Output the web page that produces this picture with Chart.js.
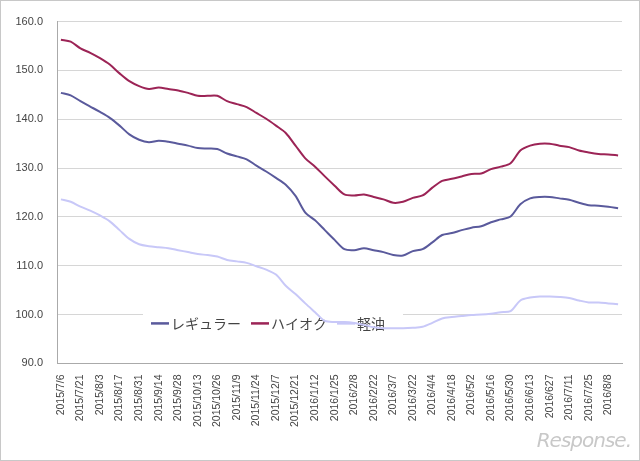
<!DOCTYPE html>
<html>
<head>
<meta charset="utf-8">
<script src="https://cdn.jsdelivr.net/npm/chart.js@4"></script>
<style>
  body { margin: 0; background: #fff; }
  #wrap { position: relative; width: 638px; height: 459px; border: 1px solid #c8c8c8; }
  #mark { position: absolute; right: 8px; bottom: 8px; font: italic 20px "DejaVu Sans", sans-serif; color: #c8c8c8; letter-spacing: -1px; }
</style>
</head>
<body>
<div id="wrap">
  <canvas id="lineChart" width="638" height="459"></canvas>
  <div id="mark">Response.</div>
</div>
<script>
// weekly survey dates (every other one is shown on the axis)
var weeks = ["2015/7/6","2015/7/13","2015/7/21","2015/7/27","2015/8/3","2015/8/10","2015/8/17","2015/8/24","2015/8/31","2015/9/7",
  "2015/9/14","2015/9/24","2015/9/28","2015/10/5","2015/10/13","2015/10/19","2015/10/26","2015/11/2","2015/11/9","2015/11/16",
  "2015/11/24","2015/11/30","2015/12/7","2015/12/14","2015/12/21","2016/1/5","2016/1/12","2016/1/18","2016/1/25","2016/2/1",
  "2016/2/8","2016/2/15","2016/2/22","2016/2/29","2016/3/7","2016/3/14","2016/3/22","2016/3/28","2016/4/4","2016/4/11",
  "2016/4/18","2016/4/25","2016/5/2","2016/5/9","2016/5/16","2016/5/23","2016/5/30","2016/6/6","2016/6/13","2016/6/20",
  "2016/627","2016/7/4","2016/7/11","2016/7/19","2016/7/25","2016/8/1","2016/8/8","2016/8/15"];

var regular = [145.4,144.9,143.7,142.6,141.5,140.3,138.7,136.9,135.8,135.3,135.6,135.4,135.0,134.6,134.1,134.0,133.9,133.0,132.4,131.8,
  130.5,129.3,128.0,126.6,124.3,120.9,119.3,117.3,115.3,113.4,113.2,113.6,113.2,112.8,112.2,112.1,113.0,113.4,114.8,116.3,
  116.7,117.3,117.8,118.1,118.9,119.5,120.1,122.6,123.8,124.1,124.1,123.8,123.5,122.9,122.4,122.3,122.1,121.8];

var highOctane = [156.3,155.9,154.5,153.6,152.5,151.2,149.4,147.8,146.8,146.2,146.5,146.2,145.9,145.4,144.8,144.8,144.8,143.7,143.1,142.5,
  141.3,140.1,138.7,137.2,134.6,132.0,130.3,128.3,126.4,124.6,124.4,124.6,124.1,123.6,122.9,123.1,123.9,124.4,126.0,127.4,
  127.8,128.3,128.8,128.9,129.8,130.3,131.0,133.6,134.6,135.0,135.0,134.6,134.3,133.6,133.2,132.9,132.8,132.6];

var diesel = [123.6,123.1,122.1,121.3,120.3,119.1,117.3,115.5,114.4,114.0,113.8,113.6,113.2,112.8,112.4,112.2,111.9,111.2,110.9,110.6,
  109.9,109.2,108.2,105.9,104.2,102.3,100.5,98.7,98.5,98.5,98.3,97.9,97.4,97.2,97.2,97.2,97.3,97.5,98.3,99.2,
  99.5,99.7,99.9,100.0,100.2,100.5,100.7,102.9,103.5,103.7,103.7,103.6,103.4,102.9,102.5,102.5,102.3,102.1];

var seriesNames = ["レギュラー", "ハイオク", "軽油"];
var seriesColors = ["#5a5a9c", "#9c2456", "#c8c8f8"];

function pts(arr) {
  return arr.map(function (v, i) { return { x: i, y: v }; });
}

var FONT = '"Liberation Sans", Arial, sans-serif';

// legend drawn inside the plot, on a white box over the gridlines (lines pass over it)
var innerLegend = {
  id: "innerLegend",
  beforeDatasetsDraw: function (chart) {
    var c = chart.ctx;
    var y = chart.scales.y.getPixelForValue(98.2);
    c.save();
    c.fillStyle = "#fff";
    c.fillRect(142, y - 12, 260, 24);
    c.font = "14px " + '"Noto Sans CJK JP", sans-serif';
    c.textBaseline = "middle";
    var x = 150;
    chart.data.datasets.forEach(function (ds) {
      c.strokeStyle = ds.borderColor;
      c.lineWidth = 2.5;
      c.beginPath();
      c.moveTo(x, y);
      c.lineTo(x + 18, y);
      c.stroke();
      c.fillStyle = "#444";
      c.fillText(ds.label, x + 20, y);
      x += c.measureText(ds.label).width + 30 + (ds.label.length < 3 ? 24 : 0);
    });
    c.restore();
  }
};

var ctx = document.getElementById("lineChart").getContext("2d");
var lineChart = new Chart(ctx, {
  type: "line",
  data: {
    datasets: [regular, highOctane, diesel].map(function (arr, k) {
      return {
        label: seriesNames[k],
        data: pts(arr),
        borderColor: seriesColors[k],
        borderWidth: 2,
        pointRadius: 0,
        tension: 0.3,
        fill: false
      };
    })
  },
  options: {
    responsive: false,
    animation: false,
    layout: { padding: { left: 0, right: 17, top: 10, bottom: 30 } },
    plugins: { legend: { display: false }, tooltip: { enabled: false } },
    scales: {
      x: {
        type: "linear",
        min: -0.4,
        max: 57.4,
        afterBuildTicks: function (axis) {
          var t = [];
          for (var i = 0; i < weeks.length - 1; i += 2) t.push({ value: i });
          axis.ticks = t;
        },
        grid: { display: false },
        border: { color: "#aaa" },
        ticks: {
          autoSkip: false,
          maxRotation: 90,
          minRotation: 90,
          color: "#444",
          font: { family: FONT, size: 10.5 },
          callback: function (v) { return weeks[v]; }
        }
      },
      y: {
        min: 90,
        max: 160,
        afterFit: function (axis) { axis.width = 56; },
        grid: { color: "#d6d6d6", drawTicks: false },
        border: { color: "#aaa" },
        ticks: {
          stepSize: 10,
          padding: 14,
          color: "#444",
          font: { family: FONT, size: 11 },
          callback: function (v) { return v.toFixed(1); }
        }
      }
    }
  },
  plugins: [innerLegend]
});
</script>
</body>
</html>
